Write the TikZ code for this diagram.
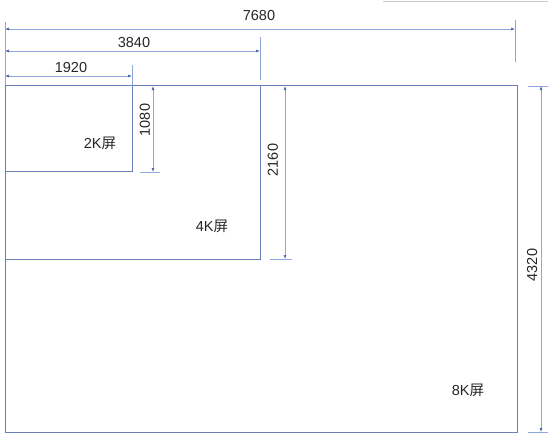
\documentclass[tikz,border=0pt]{standalone}
\usepackage{fontspec}
\setmainfont{Liberation Sans}
\newfontfamily\cjk{Noto Sans CJK SC}
\usetikzlibrary{arrows.meta}
\definecolor{boxc}{HTML}{6A7FB8}
\definecolor{dimc}{HTML}{8EA6DA}
\definecolor{tipc}{HTML}{4A66B0}
\begin{document}
\begin{tikzpicture}[x=1pt,y=-1pt,
  screen/.style={draw=boxc,line width=1pt},
  dimline/.style={draw=dimc,line width=0.6pt,{Latex[length=4pt,width=3pt,color=tipc]}-{Latex[length=4pt,width=3pt,color=tipc]}},
  extline/.style={draw=dimc,line width=0.6pt},
  dimtext/.style={font=\fontsize{14.5}{16}\selectfont,text=black!85,inner sep=0pt},
  lbl/.style={font=\fontsize{14.5}{16}\selectfont,text=black!85,inner sep=0pt}]
\useasboundingbox (0,0) rectangle (548,440);
\draw[gray!40,line width=0.6pt] (383,1) -- (548,1);
% screens
\draw[screen] (5,85) rectangle (517,432);
\draw[screen] (5,85) rectangle (260,259);
\draw[screen] (5,85) rectangle (132,171);
% labels
\node[lbl] (l2k) at (100,143) {2K{\cjk 屏}};
\node[lbl] (l4k) at (212,226) {4K{\cjk 屏}};
\node[lbl] (l8k) at (468,390) {8K{\cjk 屏}};
% extension lines
\coordinate (e0a) at (5,22); \coordinate (e0b) at (5,85);
\draw[extline] (e0a) -- (e0b);
\coordinate (e1a) at (515,20); \coordinate (e1b) at (515,62);
\draw[extline] (e1a) -- (e1b);
\coordinate (e2a) at (260,37); \coordinate (e2b) at (260,80);
\draw[extline] (e2a) -- (e2b);
\coordinate (e3a) at (132,65); \coordinate (e3b) at (132,85);
\draw[extline] (e3a) -- (e3b);
\coordinate (e4a) at (140,172); \coordinate (e4b) at (160,172);
\draw[extline] (e4a) -- (e4b);
\coordinate (e5a) at (270,259); \coordinate (e5b) at (292,259);
\draw[extline] (e5a) -- (e5b);
\coordinate (e6a) at (528,86); \coordinate (e6b) at (548,86);
\draw[extline] (e6a) -- (e6b);
\coordinate (e7a) at (528,432); \coordinate (e7b) at (548,432);
\draw[extline] (e7a) -- (e7b);
% dimension lines
\coordinate (d1a) at (5,29); \coordinate (d1b) at (515,29);
\draw[dimline] (d1a) -- (d1b);
\node[dimtext] (t1) at (259,16) {7680};
\coordinate (d2a) at (5,51); \coordinate (d2b) at (260,51);
\draw[dimline] (d2a) -- (d2b);
\node[dimtext] (t2) at (134,43) {3840};
\coordinate (d3a) at (5,76); \coordinate (d3b) at (132,76);
\draw[dimline] (d3a) -- (d3b);
\node[dimtext] (t3) at (71,68) {1920};
\coordinate (d4a) at (153,86); \coordinate (d4b) at (153,172);
\draw[dimline] (d4a) -- (d4b);
\node[dimtext,rotate=90] (t4) at (145,120) {1080};
\coordinate (d5a) at (285,86); \coordinate (d5b) at (285,259);
\draw[dimline] (d5a) -- (d5b);
\node[dimtext,rotate=90] (t5) at (273,160) {2160};
\coordinate (d6a) at (541,86); \coordinate (d6b) at (541,432);
\draw[dimline] (d6a) -- (d6b);
\node[dimtext,rotate=90] (t6) at (532,265) {4320};
\end{tikzpicture}
\end{document}
